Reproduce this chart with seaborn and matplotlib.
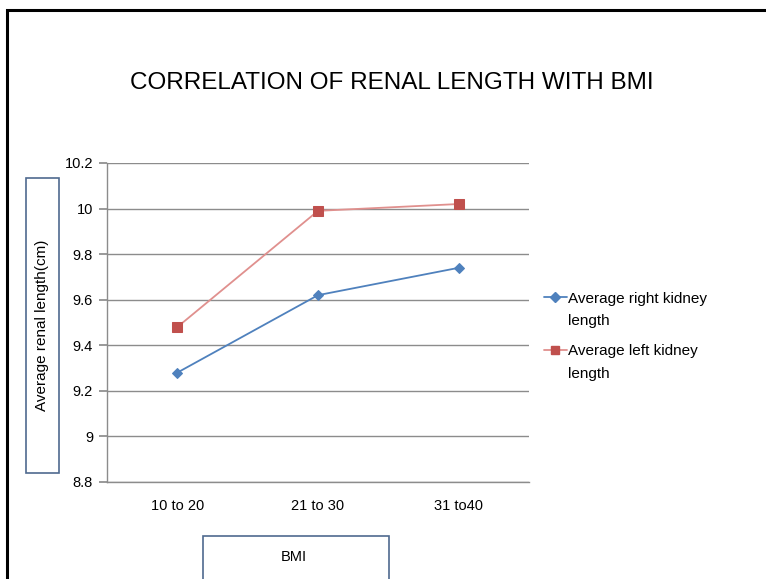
import pandas as pd
import matplotlib.pyplot as plt
import seaborn as sns
from matplotlib.patches import Rectangle
from matplotlib.lines import Line2D

# 데이터
bmi_groups = ["10 to 20", "21 to 30", "31 to40"]
right_kidney = [9.28, 9.62, 9.74]
left_kidney = [9.48, 9.99, 10.02]
y_ticks = [8.8, 9, 9.2, 9.4, 9.6, 9.8, 10, 10.2]
y_tick_labels = ["8.8", "9", "9.2", "9.4", "9.6", "9.8", "10", "10.2"]

df_right = pd.DataFrame({"bmi": bmi_groups, "length": right_kidney})
df_left = pd.DataFrame({"bmi": bmi_groups, "length": left_kidney})

sns.set_theme(style="white")
plt.rcParams["font.family"] = ["Liberation Sans", "DejaVu Sans"]
plt.rcParams["text.color"] = "black"
plt.rcParams["xtick.labelcolor"] = "black"
plt.rcParams["ytick.labelcolor"] = "black"

fig = plt.figure(figsize=(7.66, 5.79), dpi=100)
ax = fig.add_axes([107 / 766, 1 - 482 / 579, 422 / 766, 319 / 579])

sns.lineplot(data=df_right, x="bmi", y="length", ax=ax, color="#4f81bd",
             marker="D", markersize=5, markeredgecolor="#4f81bd", linewidth=1.3)
sns.lineplot(data=df_left, x="bmi", y="length", ax=ax, color="#e0908e",
             marker="s", markersize=6.5, markerfacecolor="#c0504d",
             markeredgecolor="#c0504d", linewidth=1.3)

ax.set_xlim(-0.5, 2.5)
ax.set_ylim(8.8, 10.2)
ax.set_yticks(y_ticks)
ax.set_yticklabels(y_tick_labels, fontsize=10.5)
ax.set_xticks(range(len(bmi_groups)))
ax.set_xticklabels(bmi_groups, fontsize=10.5)
ax.set_xticks([-0.5, 0.5, 1.5, 2.5], minor=True)
ax.tick_params(axis="x", which="major", length=0, pad=12)
ax.tick_params(axis="x", which="minor", length=5, color="#8c8c8c", direction="out")
ax.tick_params(axis="y", length=6, color="#8c8c8c", direction="out", left=True, pad=4)
ax.yaxis.grid(True, color="#8c8c8c", linewidth=1)
ax.set_axisbelow(True)
ax.set_xlabel("")
ax.set_ylabel("")
for s in ["top", "right"]:
    ax.spines[s].set_visible(False)
for s in ["left", "bottom"]:
    ax.spines[s].set_color("#8c8c8c")
    ax.spines[s].set_linewidth(1)

# 제목
fig.text(392 / 766, 1 - 83 / 579, "CORRELATION OF RENAL LENGTH WITH BMI",
         ha="center", va="center", fontsize=17.5)

# 축 라벨 상자
fig.patches.append(Rectangle((26 / 766, 1 - 473 / 579), 33 / 766, 295 / 579,
                             transform=fig.transFigure, fill=False,
                             edgecolor="#4f6a8f", linewidth=1.2))
fig.text(42 / 766, 1 - 325 / 579, "Average renal length(cm)", rotation=90,
         ha="center", va="center", fontsize=11)
fig.patches.append(Rectangle((203 / 766, 1 - 600 / 579), 186 / 766, 64 / 579,
                             transform=fig.transFigure, fill=False,
                             edgecolor="#4f6a8f", linewidth=1.2))
fig.text(294 / 766, 1 - 557 / 579, "BMI", ha="center", va="center", fontsize=10.5)

# 범례: 핸들은 첫 줄에 맞추고, 둘째 줄 "length"는 따로 씀
handles = [
    Line2D([], [], color="#4f81bd", marker="D", markersize=5, linewidth=1.3),
    Line2D([], [], color="#e0908e", marker="s", markersize=6,
           markerfacecolor="#c0504d", markeredgecolor="#c0504d", linewidth=1.3),
]
fig.legend(handles, ["Average right kidney", "Average left kidney"],
           loc="upper left", bbox_to_anchor=(533 / 766, 1 - 281 / 579),
           frameon=False, fontsize=11, handlelength=1.5, handletextpad=0.1,
           labelspacing=2.5, borderpad=0.2)
for yy in [321, 374]:
    fig.text(568 / 766, 1 - yy / 579, "length", ha="left", va="center", fontsize=11)

# 바깥 테두리
fig.patches.append(Rectangle((7 / 766, -0.1), 1.2, 1.083, transform=fig.transFigure,
                             fill=False, edgecolor="black", linewidth=2.2))

fig.savefig("out.png", dpi=100)
